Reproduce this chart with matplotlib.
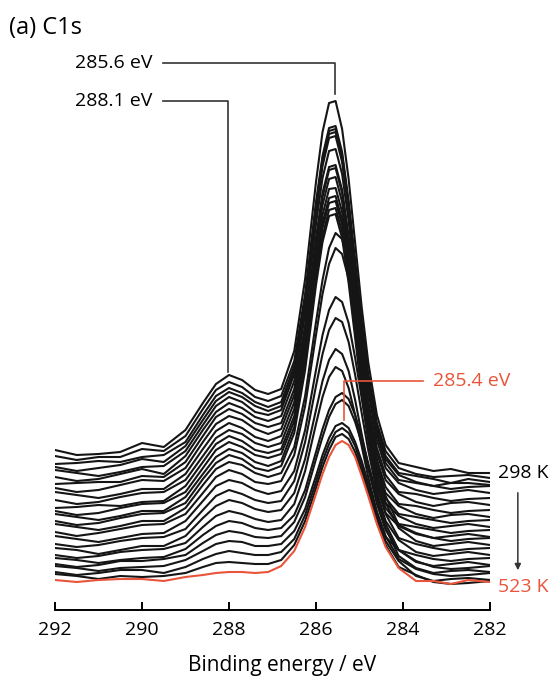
import matplotlib
matplotlib.use("Agg")
import matplotlib.pyplot as plt

plt.rcParams['font.family'] = ['Open Sans', 'DejaVu Sans']

# binding energy grid (eV) and stacked C1s spectra (arbitrary units, offset)
energy = [292.0, 291.5, 291.0, 290.5, 290.0, 289.5, 289.0, 288.6, 288.3, 288.0, 287.7,
          287.4, 287.1, 286.8, 286.5, 286.25, 286.0, 285.85, 285.7, 285.55, 285.4,
          285.25, 285.1, 284.95, 284.8, 284.6, 284.4, 284.1, 283.7, 283.3, 282.9, 282.5, 282.0]

spectra = [
    [160, 155, 156, 158, 167, 163, 180, 207, 226, 235, 230, 220, 216, 221, 259, 331, 428, 478, 507, 509, 481, 431, 367, 303, 248, 195, 165, 147, 143, 139, 141, 137, 137],
    [154, 150, 153, 153, 161, 159, 174, 201, 220, 228, 223, 213, 209, 214, 249, 316, 408, 454, 482, 484, 458, 409, 349, 289, 237, 187, 159, 142, 136, 133, 134, 135, 132],
    [146, 147, 149, 148, 153, 155, 168, 195, 214, 222, 217, 208, 203, 208, 244, 312, 404, 451, 479, 481, 455, 406, 346, 285, 233, 183, 154, 137, 134, 131, 127, 131, 128],
    [143, 139, 142, 145, 151, 148, 164, 190, 209, 218, 213, 204, 199, 204, 240, 309, 401, 448, 476, 478, 452, 403, 343, 282, 230, 180, 151, 135, 128, 124, 127, 127, 125],
    [140, 137, 134, 138, 143, 144, 159, 185, 204, 213, 208, 198, 195, 200, 236, 304, 397, 444, 472, 474, 448, 400, 339, 278, 226, 176, 147, 130, 127, 124, 121, 123, 124],
    [133, 129, 131, 136, 141, 136, 154, 180, 198, 207, 202, 193, 189, 194, 229, 296, 386, 432, 459, 461, 436, 389, 329, 270, 219, 170, 142, 127, 120, 116, 118, 120, 117],
    [126, 127, 128, 128, 134, 133, 148, 174, 193, 201, 196, 187, 183, 187, 221, 285, 372, 417, 443, 445, 420, 374, 317, 259, 209, 162, 135, 118, 116, 112, 109, 111, 112],
    [122, 118, 120, 125, 130, 129, 142, 168, 186, 194, 190, 181, 176, 181, 215, 280, 368, 413, 440, 442, 417, 371, 313, 254, 205, 157, 130, 116, 108, 104, 107, 108, 105],
    [118, 115, 112, 116, 121, 121, 136, 161, 179, 187, 182, 173, 169, 174, 208, 273, 360, 405, 431, 433, 408, 362, 305, 247, 197, 150, 123, 106, 104, 100, 97, 99, 100],
    [110, 106, 108, 113, 117, 118, 130, 154, 172, 180, 176, 167, 163, 167, 201, 265, 350, 395, 421, 422, 398, 353, 296, 239, 191, 144, 117, 104, 96, 92, 95, 96, 93],
    [102, 103, 105, 104, 108, 109, 124, 148, 166, 174, 169, 160, 157, 161, 194, 258, 343, 387, 412, 414, 390, 345, 289, 233, 185, 138, 112, 96, 93, 90, 87, 89, 90],
    [99, 95, 97, 102, 106, 107, 118, 142, 160, 168, 163, 155, 152, 156, 189, 253, 338, 382, 407, 409, 385, 340, 284, 228, 180, 133, 107, 94, 86, 82, 84, 86, 83],
    [96, 93, 90, 94, 99, 99, 113, 136, 153, 161, 157, 148, 144, 149, 183, 246, 331, 374, 400, 402, 378, 333, 278, 222, 174, 128, 102, 86, 83, 80, 77, 79, 80],
    [89, 85, 87, 92, 96, 97, 107, 131, 147, 155, 151, 142, 139, 144, 177, 240, 325, 368, 394, 396, 372, 327, 272, 216, 169, 123, 97, 84, 76, 72, 74, 76, 73],
    [86, 83, 80, 84, 89, 89, 102, 125, 141, 148, 145, 137, 133, 137, 163, 214, 288, 330, 362, 377, 371, 345, 304, 254, 206, 151, 114, 85, 77, 72, 69, 71, 72],
    [78, 74, 77, 81, 85, 86, 96, 117, 133, 140, 136, 128, 126, 129, 155, 204, 275, 316, 346, 362, 356, 331, 291, 243, 196, 144, 107, 82, 69, 64, 66, 68, 65],
    [74, 71, 68, 72, 76, 77, 89, 109, 124, 130, 127, 120, 116, 119, 139, 180, 240, 275, 300, 313, 308, 287, 252, 212, 172, 127, 96, 72, 66, 62, 59, 61, 62],
    [66, 63, 65, 69, 72, 73, 81, 100, 114, 120, 116, 110, 107, 109, 129, 168, 224, 256, 280, 292, 288, 268, 235, 197, 160, 118, 89, 70, 58, 54, 56, 58, 55],
    [62, 60, 56, 60, 64, 64, 74, 92, 104, 110, 107, 101, 98, 100, 117, 151, 200, 229, 250, 261, 256, 239, 210, 176, 143, 106, 80, 60, 55, 51, 49, 51, 52],
    [55, 52, 54, 58, 60, 61, 67, 83, 94, 99, 96, 91, 88, 90, 106, 139, 186, 213, 233, 243, 239, 222, 195, 164, 133, 98, 73, 60, 48, 44, 46, 48, 45],
    [52, 50, 47, 50, 52, 53, 61, 75, 84, 89, 87, 82, 80, 82, 95, 120, 158, 181, 200, 213, 217, 211, 195, 173, 147, 114, 86, 60, 49, 43, 41, 42, 44],
    [46, 43, 45, 49, 49, 51, 55, 67, 75, 79, 77, 73, 72, 74, 88, 113, 151, 173, 193, 206, 210, 204, 188, 167, 141, 109, 82, 54, 42, 37, 39, 40, 38],
    [44, 42, 39, 42, 43, 44, 50, 59, 66, 69, 68, 64, 64, 66, 79, 101, 134, 155, 172, 184, 187, 182, 168, 149, 127, 98, 74, 51, 41, 36, 34, 35, 37],
    [38, 35, 37, 40, 40, 37, 43, 51, 56, 59, 57, 55, 55, 58, 71, 95, 128, 149, 166, 178, 182, 177, 164, 144, 122, 93, 69, 49, 34, 29, 31, 32, 30],
    [36, 34, 31, 34, 33, 34, 37, 43, 47, 48, 47, 46, 46, 50, 65, 89, 122, 143, 160, 173, 176, 171, 158, 139, 118, 89, 65, 43, 35, 28, 26, 27, 29],
]
spectrum_523K = [30, 28, 30, 31, 31, 29, 33, 35, 37, 38, 38, 37, 38, 44, 59, 83, 116, 136, 153, 165, 169, 165, 153, 134, 114, 86, 63, 42, 29, 29, 26, 30, 28]

xticks = [292, 290, 288, 286, 284, 282]
red = '#e8553a'
grey = '#333333'

fig = plt.figure(figsize=(5.51, 6.77), dpi=100)
ax = fig.add_axes([55 / 551, 67 / 677, 435 / 551, 570 / 677])

for s in spectra:
    ax.plot(energy, s, color='#151515', lw=1.5, solid_joinstyle='round')
ax.plot(energy, spectrum_523K, color=red, lw=1.5, solid_joinstyle='round', zorder=3)

ax.set_xlim(292, 282)
ax.set_ylim(0, 570)
for side in ['left', 'right', 'top']:
    ax.spines[side].set_visible(False)
ax.spines['bottom'].set_linewidth(1.4)
ax.set_yticks([])
ax.set_xticks(xticks)
ax.set_xticklabels([str(t) for t in xticks])
ax.tick_params(axis='x', direction='in', length=6, width=1.4, pad=8, labelsize=14)

# peak markers
ax.plot([289.52, 285.56, 285.56], [547, 547, 516], color=grey, lw=1.2, clip_on=False)
ax.text(289.77, 547, '285.6 eV', ha='right', va='center', fontsize=14)
ax.plot([289.52, 288.02, 288.02], [509, 509, 238], color=grey, lw=1.2, clip_on=False)
ax.text(289.77, 509, '288.1 eV', ha='right', va='center', fontsize=14)
ax.plot([283.54, 285.36, 285.36], [229, 229, 190], color=red, lw=1.2, clip_on=False)
ax.text(283.31, 229, '285.4 eV', ha='left', va='center', fontsize=14, color=red)

# temperature labels
ax.text(281.82, 137, '298 K', ha='left', va='center', fontsize=14)
ax.text(281.82, 23, '523 K', ha='left', va='center', fontsize=14, color=red)
ax.annotate('', xy=(281.36, 37), xytext=(281.36, 120), annotation_clip=False,
            arrowprops=dict(arrowstyle='-|>', color=grey, lw=1.1, mutation_scale=9))

fig.text(282 / 551, 1 - 665 / 677, 'Binding energy / eV', ha='center', va='center', fontsize=15)
fig.text(9 / 551, 1 - 28 / 677, '(a) C1s', ha='left', va='center', fontsize=17)

fig.savefig('out.png', dpi=100)
